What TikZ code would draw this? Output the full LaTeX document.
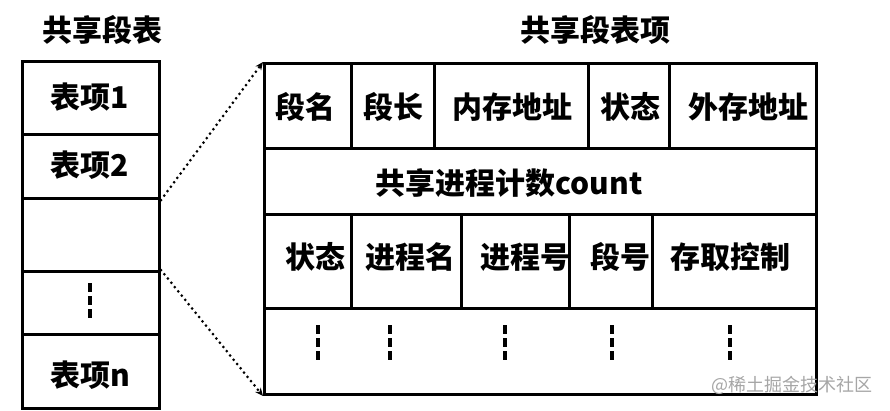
\documentclass[tikz,border=0pt]{standalone}
\usepackage{fontspec}
\setmainfont{Noto Sans CJK SC}
\usetikzlibrary{arrows.meta}
\begin{document}
\begin{tikzpicture}[x=1pt,y=-1pt,
  cell/.style={draw,line width=3pt,inner sep=0pt,anchor=north west},
  lbl/.style={font=\fontsize{30}{32}\selectfont\bfseries,inner sep=0pt},
  wm/.style={font=\fontsize{18}{20}\selectfont,text=black!35,inner sep=0pt},
  vdots/.style={line width=4pt,dash pattern=on 9pt off 4pt},
  zoomline/.style={line width=3pt,dash pattern=on 0pt off 5.5pt,line cap=round,-{Stealth[length=8pt,width=7pt]}}]
\useasboundingbox[fill=white] (0,0) rectangle (890,410);
% left table
\node[cell,minimum width=137pt,minimum height=73pt] (l1) at (21,60) {};
\node[cell,minimum width=137pt,minimum height=64pt] (l2) at (21,133) {};
\node[cell,minimum width=137pt,minimum height=73pt] (l3) at (21,197) {};
\node[cell,minimum width=137pt,minimum height=63pt] (l4) at (21,270) {};
\node[cell,minimum width=137pt,minimum height=74pt] (l5) at (21,333) {};
% right table
\node[cell,minimum width=87pt,minimum height=85pt] (r11) at (263,62) {};
\node[cell,minimum width=83pt,minimum height=85pt] (r12) at (350,62) {};
\node[cell,minimum width=154pt,minimum height=85pt] (r13) at (433,62) {};
\node[cell,minimum width=81pt,minimum height=85pt] (r14) at (587,62) {};
\node[cell,minimum width=147pt,minimum height=85pt] (r15) at (668,62) {};
\node[cell,minimum width=552pt,minimum height=66pt] (r2) at (263,147) {};
\node[cell,minimum width=87pt,minimum height=94pt] (r31) at (263,213) {};
\node[cell,minimum width=110pt,minimum height=94pt] (r32) at (350,213) {};
\node[cell,minimum width=108pt,minimum height=94pt] (r33) at (460,213) {};
\node[cell,minimum width=83pt,minimum height=94pt] (r34) at (568,213) {};
\node[cell,minimum width=164pt,minimum height=94pt] (r35) at (651,213) {};
\node[cell,minimum width=552pt,minimum height=86pt] (r4) at (263,307) {};
% titles
\node[lbl] (t1) at (102,30) {共享段表};
\node[lbl] (t2) at (595,30) {共享段表项};
% left labels
\node[lbl] (e1) at (90,97) {表项1};
\node[lbl] (e2) at (90,165) {表项2};
\node[lbl] (en) at (90,375) {表项n};
% row 1
\node[lbl] (a1) at (305,107) {段名};
\node[lbl] (a2) at (393,107) {段长};
\node[lbl] (a3) at (512,107) {内存地址};
\node[lbl] (a4) at (630,107) {状态};
\node[lbl] (a5) at (748,107) {外存地址};
% row 2
\node[lbl] (b1) at (509,183) {共享进程计数count};
% row 3
\node[lbl] (c1) at (315,257) {状态};
\node[lbl] (c2) at (410,257) {进程名};
\node[lbl] (c3) at (525,257) {进程号};
\node[lbl] (c4) at (620,257) {段号};
\node[lbl] (c5) at (730,257) {存取控制};
% vertical ellipsis marks
\draw[vdots] (90,283) -- (90,318);
\foreach \x in {318,390,505,612,730}{\draw[vdots] (\x,325) -- (\x,362);}
% zoom lines
\draw[zoomline] (l2.south east) -- (r11.north west);
\draw[zoomline] (l4.north east) -- (r4.south west);
% watermark
\node[wm] (w) at (792,385) {@稀土掘金技术社区};
\end{tikzpicture}
\end{document}
